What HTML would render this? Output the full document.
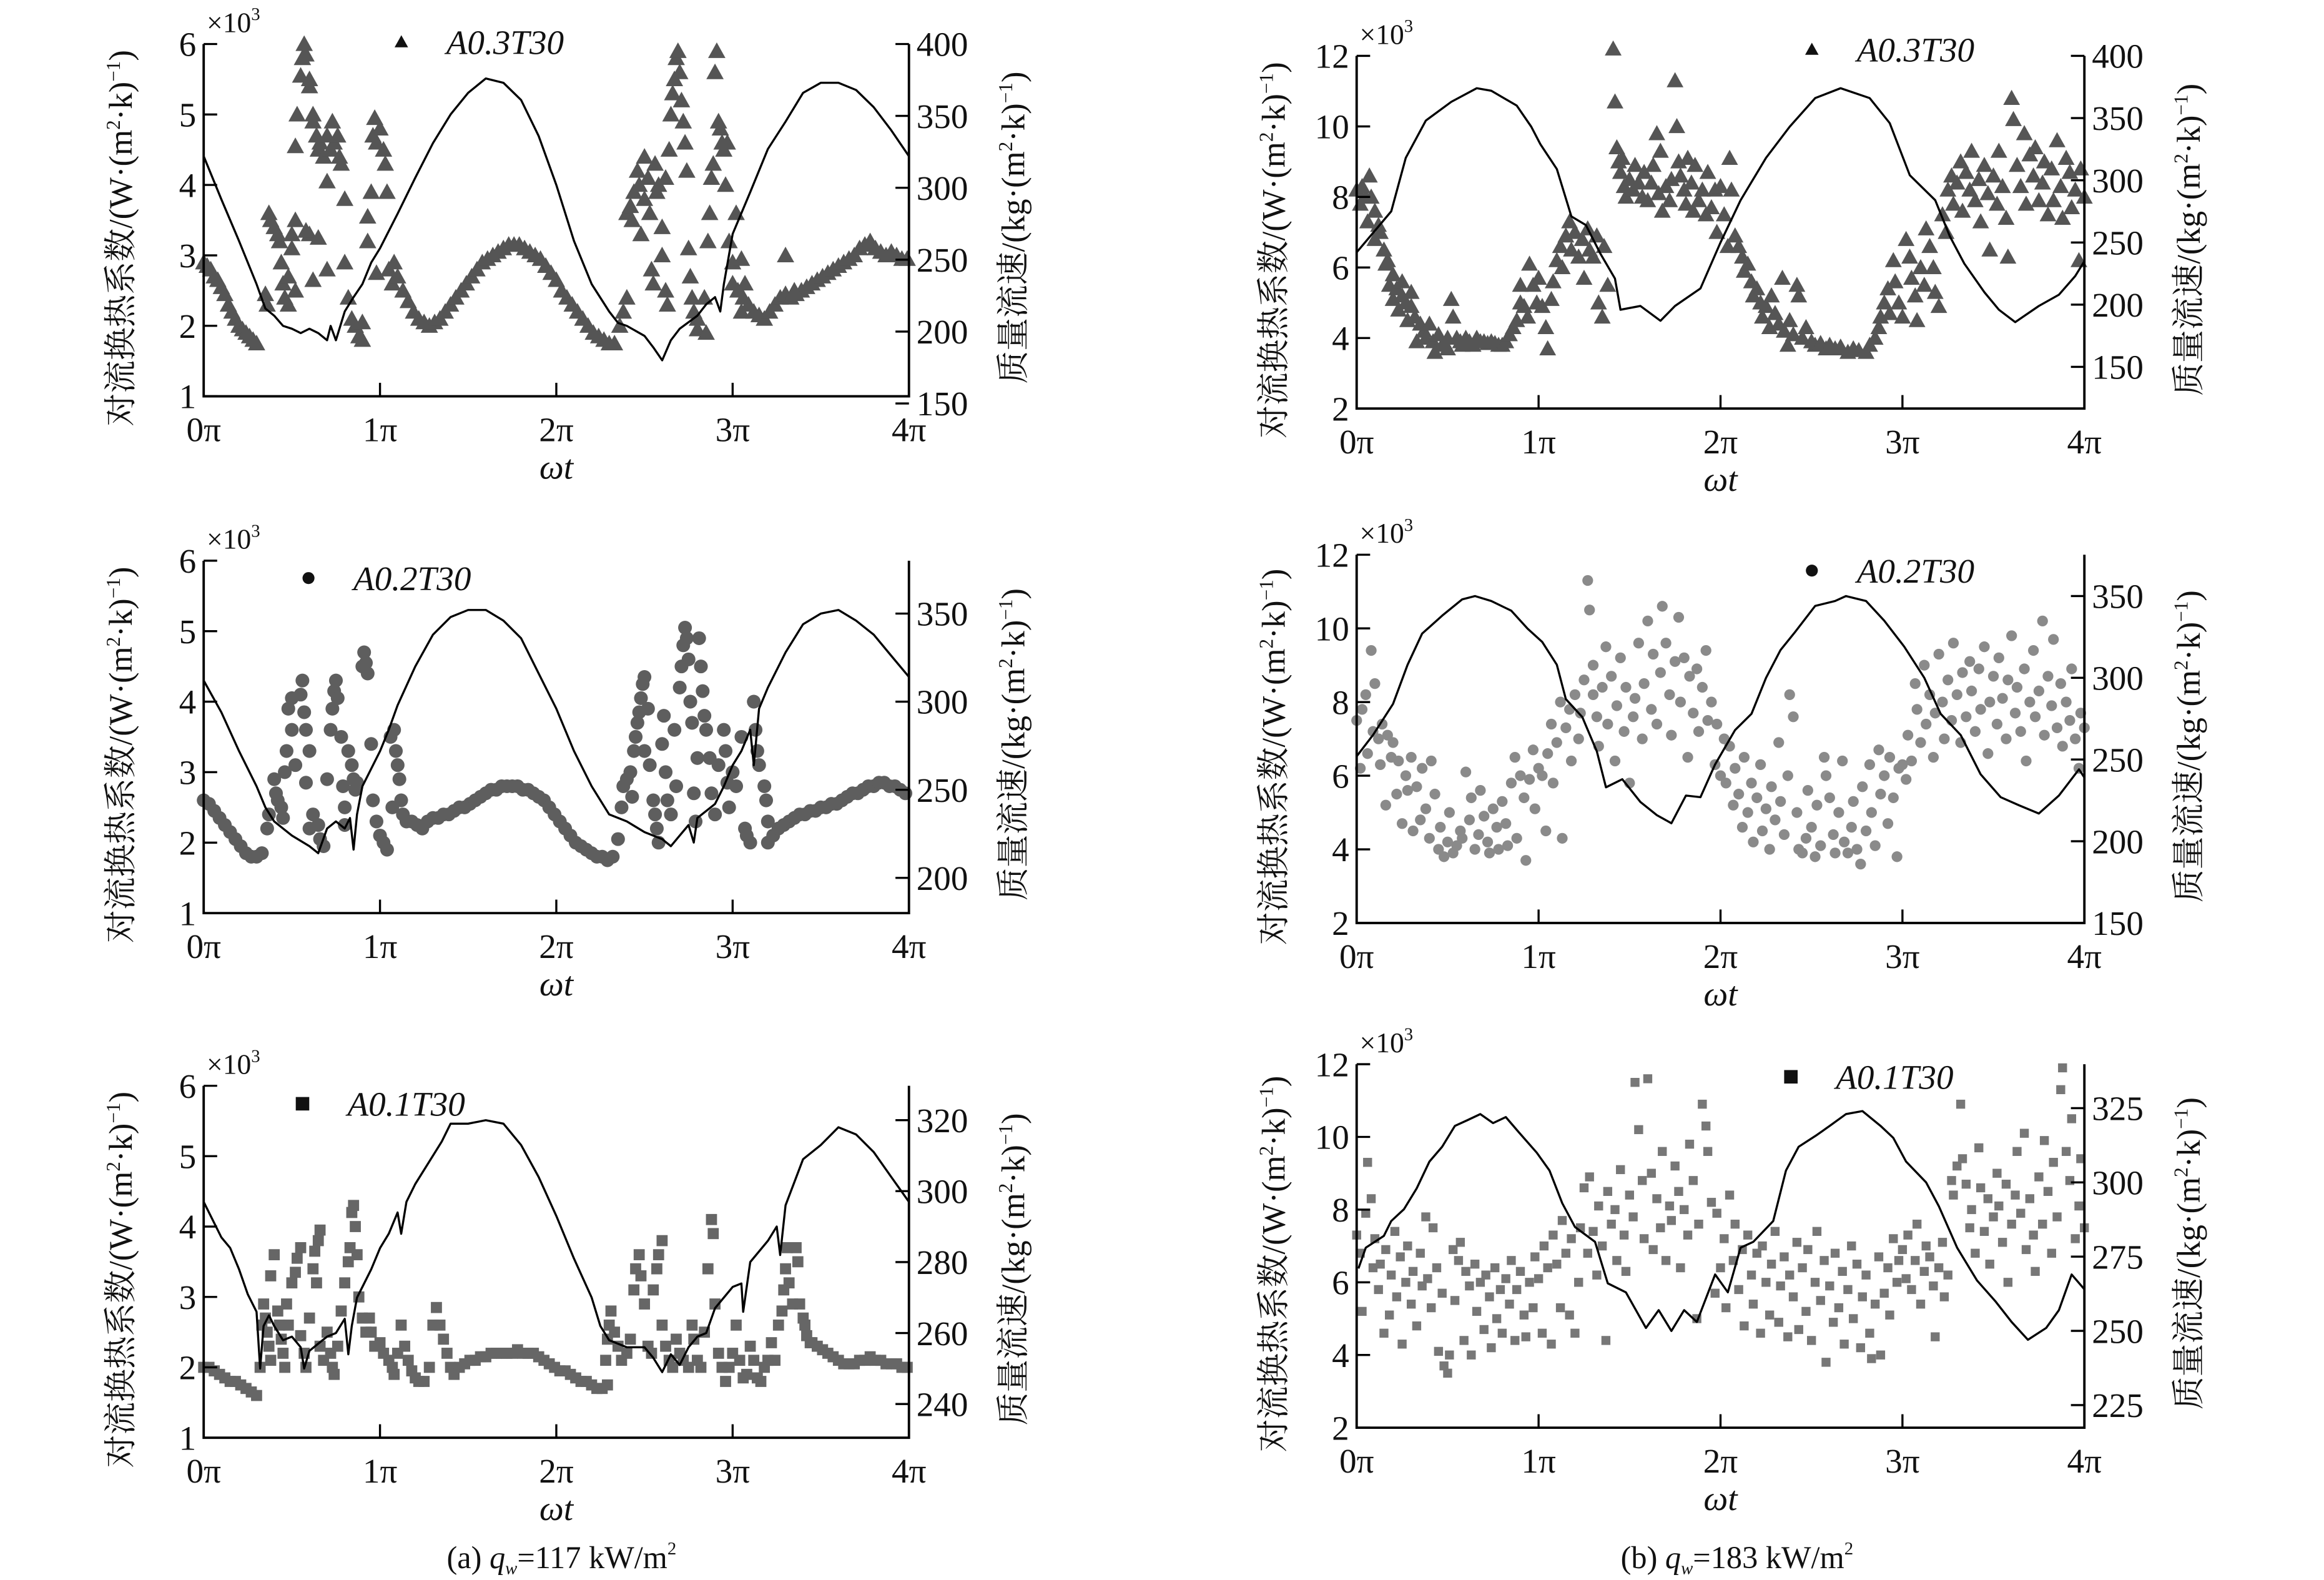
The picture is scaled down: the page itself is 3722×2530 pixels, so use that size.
<!DOCTYPE html>
<html><head><meta charset="utf-8">
<style>
html,body{margin:0;padding:0;background:#fff;}
svg{display:block;}
text{font-family:"Liberation Serif","Noto Serif CJK SC","Noto Sans CJK SC",serif;fill:#111;}
</style></head>
<body>
<svg id="chart" width="3722" height="2530" viewBox="0 0 1552 1055" xmlns="http://www.w3.org/2000/svg">
<text x="375" y="1047" text-anchor="middle" font-size="21">(a) <tspan font-style="italic">q</tspan><tspan font-style="italic" font-size="12" dy="4">w</tspan><tspan dy="-4">=117 kW/m</tspan><tspan font-size="12" dy="-9">2</tspan></text>
<text x="1160" y="1047" text-anchor="middle" font-size="21">(b) <tspan font-style="italic">q</tspan><tspan font-style="italic" font-size="12" dy="4">w</tspan><tspan dy="-4">=183 kW/m</tspan><tspan font-size="12" dy="-9">2</tspan></text>
</svg>
<script>
// ===== DATA =====
const xTickLabels = ["0π","1π","2π","3π","4π"];
const xTickValues = [0,1,2,3,4];
const a1LeftTicks = [1,2,3,4,5,6];
const a1RightTicks = [150,200,250,300,350,400];
const a2LeftTicks = [1,2,3,4,5,6];
const a2RightTicks = [200,250,300,350];
const a3LeftTicks = [1,2,3,4,5,6];
const a3RightTicks = [240,260,280,300,320];
const b1LeftTicks = [2,4,6,8,10,12];
const b1RightTicks = [150,200,250,300,350,400];
const b2LeftTicks = [2,4,6,8,10,12];
const b2RightTicks = [150,200,250,300,350];
const b3LeftTicks = [2,4,6,8,10,12];
const b3RightTicks = [225,250,275,300,325];

// mass flow line [ωt/π, kg/(m2·s)]
const a1Line = [[0,322],[0.1,292],[0.2,263],[0.3,233],[0.35,216],[0.4,211],[0.45,204],[0.5,202],[0.55,199],[0.6,202],[0.65,199],[0.7,194],[0.72,204],[0.75,194],[0.8,214],[0.85,224],[0.9,233],[0.95,248],[1.0,258],[1.1,282],[1.2,307],[1.3,331],[1.4,351],[1.5,366],[1.6,376],[1.7,373],[1.8,361],[1.9,336],[2.0,302],[2.1,263],[2.2,233],[2.3,214],[2.35,206],[2.4,204],[2.5,197],[2.55,189],[2.6,180],[2.65,194],[2.7,202],[2.8,211],[2.85,219],[2.9,224],[2.93,214],[2.95,233],[3.0,268],[3.1,297],[3.2,327],[3.3,346],[3.4,366],[3.5,373],[3.6,373],[3.7,368],[3.8,356],[3.9,340],[4.0,322]];
const a2Line = [[0,312],[0.1,294],[0.2,272],[0.3,252],[0.35,240],[0.4,232],[0.45,228],[0.5,224],[0.6,218],[0.65,214],[0.7,228],[0.75,232],[0.8,228],[0.83,234],[0.85,216],[0.87,236],[0.9,252],[1.0,272],[1.05,284],[1.1,298],[1.2,320],[1.3,338],[1.4,348],[1.5,352],[1.6,352],[1.7,346],[1.8,336],[1.9,316],[2.0,296],[2.1,272],[2.2,252],[2.3,236],[2.4,232],[2.5,226],[2.6,222],[2.65,218],[2.7,224],[2.75,230],[2.78,220],[2.8,234],[2.9,242],[2.95,252],[3.0,264],[3.05,272],[3.1,284],[3.12,264],[3.15,296],[3.2,308],[3.3,328],[3.4,344],[3.5,350],[3.6,352],[3.7,346],[3.8,338],[3.9,326],[4.0,314]];
const a3Line = [[0,297],[0.1,287],[0.15,284],[0.2,278],[0.25,271],[0.3,266],[0.32,250],[0.34,262],[0.37,265],[0.4,262],[0.45,258],[0.5,259],[0.55,256],[0.57,250],[0.6,255],[0.65,257],[0.7,259],[0.75,260],[0.8,264],[0.82,254],[0.84,262],[0.87,270],[0.9,273],[0.95,278],[1.0,284],[1.05,288],[1.1,294],[1.12,288],[1.15,297],[1.2,302],[1.3,310],[1.35,314],[1.4,319],[1.5,319],[1.6,320],[1.7,319],[1.8,313],[1.9,304],[2.0,293],[2.1,281],[2.2,270],[2.25,262],[2.3,258],[2.4,256],[2.5,256],[2.55,253],[2.6,249],[2.65,254],[2.7,251],[2.75,256],[2.8,259],[2.85,260],[2.9,267],[3.0,273],[3.05,274],[3.06,266],[3.1,280],[3.2,286],[3.25,290],[3.27,282],[3.3,296],[3.4,309],[3.5,313],[3.6,318],[3.7,316],[3.8,311],[3.9,304],[4.0,297]];
const b1Line = [[0,242],[0.19,275],[0.27,318],[0.38,348],[0.52,363],[0.66,374],[0.74,372],[0.88,360],[0.96,343],[1.01,329],[1.1,309],[1.18,271],[1.26,264],[1.34,241],[1.42,221],[1.45,196],[1.56,199],[1.67,187],[1.75,199],[1.89,213],[2.0,250],[2.11,284],[2.25,318],[2.38,343],[2.52,366],[2.66,374],[2.82,366],[2.93,346],[3.04,304],[3.18,284],[3.26,255],[3.34,233],[3.45,210],[3.53,196],[3.62,186],[3.75,199],[3.86,208],[3.95,223],[4.0,235]];
const b2Line = [[0,252],[0.09,265],[0.2,284],[0.28,308],[0.36,327],[0.47,338],[0.58,348],[0.65,350],[0.74,347],[0.85,341],[0.94,330],[1.02,322],[1.1,308],[1.15,287],[1.24,276],[1.32,255],[1.37,233],[1.46,238],[1.56,224],[1.65,216],[1.73,211],[1.81,228],[1.89,227],[1.97,247],[2.08,268],[2.17,278],[2.25,300],[2.33,317],[2.41,328],[2.52,344],[2.63,347],[2.69,350],[2.8,347],[2.9,335],[3.01,319],[3.12,300],[3.21,278],[3.32,265],[3.43,241],[3.54,227],[3.64,222],[3.75,217],[3.86,228],[3.97,244],[4.0,239]];
const b3Line = [[0.01,271],[0.05,278],[0.15,282],[0.19,287],[0.26,291],[0.33,298],[0.4,307],[0.47,312],[0.54,319],[0.61,321],[0.68,323],[0.75,320],[0.82,322],[0.89,317],[0.99,310],[1.06,304],[1.13,293],[1.2,285],[1.31,280],[1.38,266],[1.48,263],[1.59,251],[1.66,257],[1.73,250],[1.8,257],[1.87,253],[1.97,269],[2.04,263],[2.11,278],[2.18,280],[2.29,287],[2.36,304],[2.43,312],[2.53,316],[2.6,319],[2.69,323],[2.78,324],[2.88,319],[2.95,315],[3.02,307],[3.13,300],[3.2,292],[3.3,278],[3.41,267],[3.51,260],[3.6,253],[3.69,247],[3.79,251],[3.86,257],[3.93,269],[4.0,264]];

// heat transfer coefficient scatter [ωt/π, ×10^3 W/(m2·K)]
const a1Scatter = [[0,2.9],[0.02,2.85],[0.04,2.8],[0.06,2.7],[0.08,2.65],[0.1,2.55],[0.12,2.45],[0.14,2.3],[0.16,2.2],[0.18,2.1],[0.2,2.0],[0.22,1.95],[0.24,1.9],[0.26,1.85],[0.28,1.8],[0.3,1.75],
[0.35,2.45],[0.36,2.3],[0.37,3.6],[0.38,3.5],[0.4,3.4],[0.42,3.3],[0.43,3.2],[0.44,2.9],[0.45,2.6],[0.46,2.4],[0.48,2.3],[0.5,3.3],[0.5,3.1],[0.52,3.5],[0.52,4.55],[0.53,5.0],[0.55,5.55],[0.56,5.8],[0.57,6.0],[0.58,5.85],[0.6,5.4],[0.6,5.5],[0.62,5.0],[0.62,4.9],[0.64,4.7],[0.65,4.5],[0.66,4.6],[0.68,4.4],[0.7,4.7],[0.7,4.05],[0.72,4.5],[0.73,4.9],[0.74,4.6],[0.76,4.7],[0.77,4.4],[0.78,4.3],[0.8,3.8],[0.8,2.9],[0.6,3.3],[0.58,3.35],[0.62,2.65],[0.7,2.8],[0.82,2.4],[0.84,2.1],[0.86,2.0],[0.88,1.85],[0.9,1.8],[0.9,2.05],[0.65,3.25],[0.52,2.5],[0.48,2.7],
[0.93,3.2],[0.93,3.55],[0.95,3.9],[0.96,4.7],[0.97,4.95],[0.98,4.6],[1.0,4.8],[1.02,4.5],[1.03,4.3],[1.04,3.9],[0.98,2.75],[1.05,2.8],[1.07,2.6],[1.08,2.9],
[1.1,2.7],[1.13,2.5],[1.16,2.35],[1.19,2.2],[1.22,2.1],[1.25,2.05],[1.28,2.0],[1.31,2.05],[1.34,2.1],[1.37,2.2],[1.4,2.3],[1.43,2.4],[1.46,2.5],[1.49,2.6],[1.52,2.7],[1.55,2.8],[1.58,2.9],[1.61,2.95],[1.64,3.0],[1.67,3.05],[1.7,3.1],[1.73,3.15],[1.76,3.15],[1.79,3.15],[1.82,3.1],[1.85,3.05],[1.88,3.0],[1.91,2.95],[1.94,2.85],[1.97,2.75],[2.0,2.65],[2.03,2.5],[2.06,2.4],[2.09,2.3],[2.12,2.2],[2.15,2.1],[2.18,2.0],[2.21,1.9],[2.24,1.85],[2.27,1.8],[2.3,1.75],[2.33,1.75],
[2.36,2.0],[2.38,2.2],[2.4,2.4],[2.4,3.6],[2.42,3.7],[2.43,3.5],[2.44,3.9],[2.46,4.2],[2.47,4.0],[2.48,3.3],[2.5,4.4],[2.5,3.8],[2.52,4.1],[2.53,3.6],[2.54,2.8],[2.55,2.6],[2.56,4.3],[2.57,3.9],[2.58,4.0],[2.6,3.4],[2.6,3.0],[2.62,4.1],[2.62,2.5],[2.63,2.3],[2.64,4.5],[2.65,5.0],[2.66,5.3],[2.67,5.5],[2.68,5.8],[2.69,5.9],[2.7,5.6],[2.71,5.2],[2.72,4.9],[2.73,4.6],[2.74,4.2],[2.75,3.1],[2.76,2.7],[2.77,2.4],[2.78,2.2],[2.8,2.1],[2.8,1.95],[2.84,2.4],[2.86,3.2],[2.87,3.6],[2.88,4.1],[2.89,4.3],[2.9,5.6],[2.91,5.9],[2.92,4.9],[2.93,4.8],[2.94,4.6],[2.95,4.5],[2.96,4.0],[2.97,4.6],[2.98,3.2],[3.0,2.9],[3.02,3.6],[3.05,2.95],[3.05,2.2],[3.07,2.6],[2.85,1.9],
[3.0,2.6],[3.03,2.5],[3.06,2.4],[3.09,2.3],[3.12,2.2],[3.15,2.15],[3.18,2.1],[3.21,2.2],[3.24,2.3],[3.27,2.4],[3.3,2.45],[3.33,2.4],[3.36,2.45],[3.39,2.5],[3.42,2.55],[3.45,2.6],[3.48,2.65],[3.51,2.7],[3.54,2.75],[3.57,2.8],[3.6,2.85],[3.63,2.9],[3.66,2.95],[3.69,3.0],[3.72,3.1],[3.75,3.15],[3.78,3.2],[3.81,3.1],[3.84,3.05],[3.87,3.0],[3.9,3.05],[3.93,3.0],[3.96,2.95],[3.99,2.95],[3.3,3.0],[3.35,2.5]];
const a2Scatter = [[0,2.6],[0.03,2.55],[0.06,2.45],[0.09,2.35],[0.12,2.25],[0.15,2.15],[0.18,2.05],[0.21,1.95],[0.24,1.85],[0.27,1.8],[0.3,1.8],[0.33,1.85],[0.36,2.2],[0.37,2.4],
[0.4,2.9],[0.41,2.7],[0.42,2.6],[0.44,2.5],[0.45,2.35],[0.46,3.0],[0.47,3.3],[0.48,3.9],[0.5,4.05],[0.5,3.6],[0.52,3.1],[0.55,4.1],[0.56,4.3],[0.57,3.85],[0.58,3.6],[0.6,3.3],[0.58,2.85],[0.6,2.2],[0.62,2.4],[0.65,2.25],[0.66,2.05],[0.68,1.95],[0.7,2.9],[0.72,3.6],[0.73,3.9],[0.74,4.15],[0.75,4.3],[0.76,4.05],[0.78,3.5],[0.79,2.8],[0.8,2.5],[0.8,2.25],[0.82,3.3],[0.84,3.1],[0.85,2.9],[0.86,2.75],[0.87,2.85],[0.9,4.5],[0.91,4.7],[0.92,4.55],[0.93,4.4],[0.95,3.4],[0.96,2.6],[0.98,2.3],[1.0,2.1],[1.02,2.0],[1.04,1.9],[1.06,3.5],[1.07,2.5],[1.08,3.6],[1.09,3.3],[1.1,3.1],[1.11,2.9],[1.12,2.6],[1.13,2.4],
[1.15,2.3],[1.18,2.3],[1.21,2.25],[1.24,2.2],[1.27,2.3],[1.3,2.35],[1.33,2.35],[1.36,2.4],[1.39,2.4],[1.42,2.45],[1.45,2.5],[1.48,2.5],[1.51,2.55],[1.54,2.6],[1.57,2.65],[1.6,2.7],[1.63,2.75],[1.66,2.75],[1.69,2.8],[1.72,2.8],[1.75,2.8],[1.78,2.8],[1.81,2.75],[1.84,2.75],[1.87,2.7],[1.9,2.65],[1.93,2.6],[1.96,2.5],[1.99,2.4],[2.02,2.3],[2.05,2.2],[2.08,2.1],[2.11,2.0],[2.14,1.95],[2.17,1.9],[2.2,1.85],[2.23,1.8],[2.26,1.8],[2.29,1.75],[2.32,1.8],[2.35,2.05],
[2.37,2.5],[2.38,2.8],[2.4,2.9],[2.42,3.0],[2.43,2.65],[2.44,3.3],[2.45,3.5],[2.46,3.7],[2.47,3.85],[2.48,4.05],[2.49,4.25],[2.5,4.35],[2.5,3.3],[2.52,3.9],[2.53,3.1],[2.55,2.6],[2.56,2.4],[2.57,2.2],[2.58,2.0],[2.6,3.4],[2.61,3.8],[2.62,3.0],[2.63,2.6],[2.65,2.4],[2.67,3.6],[2.68,2.8],[2.7,4.2],[2.71,4.5],[2.72,4.8],[2.73,5.05],[2.74,4.9],[2.75,4.6],[2.76,4.0],[2.77,3.7],[2.78,2.7],[2.79,2.3],[2.8,3.2],[2.81,4.9],[2.82,4.5],[2.83,4.15],[2.84,3.8],[2.85,3.6],[2.87,3.2],[2.88,2.7],[2.9,2.4],[2.92,3.1],[2.95,3.6],[2.96,3.3],[2.97,2.85],[2.98,2.5],[3.0,3.0],[3.02,2.8],[3.05,3.5],[3.07,2.2],[3.08,2.1],[3.1,2.0],[3.12,4.0],[3.13,3.6],[3.14,3.3],[3.15,3.1],[3.18,2.8],[3.19,2.6],[3.2,2.3],
[3.2,2.0],[3.23,2.1],[3.26,2.2],[3.29,2.25],[3.32,2.3],[3.35,2.35],[3.38,2.4],[3.41,2.4],[3.44,2.45],[3.47,2.45],[3.5,2.5],[3.53,2.5],[3.56,2.55],[3.59,2.55],[3.62,2.6],[3.65,2.65],[3.68,2.7],[3.71,2.7],[3.74,2.75],[3.77,2.8],[3.8,2.8],[3.83,2.85],[3.86,2.85],[3.89,2.8],[3.92,2.8],[3.95,2.75],[3.98,2.7]];
const a3Scatter = [[0,2.0],[0.03,2.0],[0.06,1.95],[0.09,1.9],[0.12,1.85],[0.15,1.8],[0.18,1.8],[0.21,1.75],[0.24,1.7],[0.27,1.65],[0.3,1.6],
[0.32,2.0],[0.33,2.6],[0.34,2.9],[0.35,2.7],[0.36,2.5],[0.37,2.3],[0.38,2.1],[0.38,3.3],[0.4,3.6],[0.42,2.8],[0.43,2.6],[0.44,2.4],[0.45,2.2],[0.46,2.0],[0.47,2.9],[0.48,2.6],[0.5,3.2],[0.52,3.35],[0.53,3.55],[0.55,3.7],[0.55,2.45],[0.57,2.2],[0.58,2.0],[0.6,2.7],[0.62,3.4],[0.63,3.65],[0.65,3.8],[0.66,3.95],[0.64,3.2],[0.66,2.3],[0.68,2.1],[0.7,2.5],[0.72,2.2],[0.73,2.0],[0.74,1.9],[0.76,2.3],[0.78,2.8],[0.8,3.2],[0.82,3.5],[0.83,3.7],[0.84,4.2],[0.85,4.3],[0.86,4.0],[0.87,3.6],[0.88,3.0],[0.9,2.7],[0.92,2.5],[0.94,2.7],[0.95,2.5],[0.97,2.3],[1.0,2.35],[1.02,2.2],[1.05,2.1],[1.07,2.0],[1.08,1.9],[1.1,2.2],[1.12,2.6],[1.14,2.3],[1.16,2.1],[1.18,1.95],[1.2,1.85],[1.22,1.8],[1.25,1.8],[1.28,2.0],[1.3,2.6],[1.32,2.85],[1.34,2.6],[1.36,2.4],[1.38,2.2],[1.4,2.0],[1.42,1.9],
[1.45,2.0],[1.48,2.05],[1.51,2.1],[1.54,2.1],[1.57,2.15],[1.6,2.15],[1.63,2.2],[1.66,2.2],[1.69,2.2],[1.72,2.2],[1.75,2.2],[1.78,2.25],[1.81,2.2],[1.84,2.2],[1.87,2.2],[1.9,2.15],[1.93,2.1],[1.96,2.05],[1.99,2.0],[2.02,1.95],[2.05,1.95],[2.08,1.9],[2.11,1.85],[2.14,1.8],[2.17,1.8],[2.2,1.75],[2.23,1.7],[2.26,1.7],[2.29,1.75],
[2.28,2.1],[2.29,2.4],[2.3,2.6],[2.31,2.8],[2.33,2.5],[2.35,2.3],[2.37,2.1],[2.4,2.2],[2.42,2.4],[2.44,3.1],[2.45,3.4],[2.47,3.6],[2.48,3.3],[2.5,2.9],[2.52,2.3],[2.54,2.2],[2.55,3.1],[2.57,3.4],[2.58,3.6],[2.6,3.8],[2.6,2.6],[2.62,2.3],[2.64,2.1],[2.66,2.0],[2.68,2.4],[2.7,2.2],[2.72,2.1],[2.75,2.0],[2.77,2.6],[2.78,2.4],[2.8,2.1],[2.82,2.0],[2.84,2.5],[2.86,3.4],[2.88,4.1],[2.89,3.9],[2.9,2.9],[2.92,2.2],[2.94,2.0],[2.96,1.8],[2.98,2.0],[3.0,2.2],[3.02,2.6],[3.04,2.1],[3.06,1.85],[3.08,1.9],[3.1,2.3],[3.12,2.1],[3.14,1.85],[3.16,1.8],[3.18,2.0],[3.2,2.1],[3.22,2.35],[3.24,2.1],[3.26,2.6],[3.28,2.8],[3.29,3.1],[3.3,3.4],[3.31,3.7],[3.32,3.2],[3.34,2.9],[3.36,3.7],[3.37,3.5],[3.38,2.9],[3.4,2.7],[3.41,2.6],[3.42,2.45],[3.44,2.35],
[3.45,2.35],[3.48,2.3],[3.51,2.25],[3.54,2.2],[3.57,2.15],[3.6,2.1],[3.63,2.05],[3.66,2.05],[3.69,2.05],[3.72,2.1],[3.75,2.1],[3.78,2.15],[3.81,2.1],[3.84,2.1],[3.87,2.05],[3.9,2.05],[3.93,2.05],[3.96,2.0],[3.99,2.0]];
const b1Scatter = [[0,8.2],[0.02,7.8],[0.03,8.3],[0.05,8.0],[0.06,7.3],[0.07,8.6],[0.08,8.0],[0.1,7.6],[0.1,6.8],[0.12,7.2],[0.13,7.0],[0.15,6.5],[0.16,6.1],[0.17,6.2],[0.18,5.5],[0.2,5.8],[0.2,5.1],[0.22,5.4],[0.23,4.8],[0.25,5.6],[0.25,5.2],[0.27,5.0],[0.28,4.5],[0.3,5.3],[0.3,4.9],[0.32,4.6],[0.33,3.9],[0.35,4.4],[0.37,4.2],[0.38,4.0],[0.4,4.4],[0.42,3.9],[0.43,3.6],[0.45,4.1],[0.47,3.8],[0.5,4.0],[0.5,3.7],[0.52,5.1],[0.53,4.6],[0.55,4.0],[0.57,3.9],[0.58,3.8],[0.6,4.0],[0.62,3.9],[0.64,3.8],[0.66,4.0],[0.68,3.9],[0.7,3.9],[0.72,3.85],[0.74,3.9],[0.76,3.85],[0.78,3.8],[0.8,3.8],[0.82,3.9],[0.84,4.1],[0.86,4.3],[0.88,4.5],[0.9,5.0],[0.9,5.5],[0.92,4.9],[0.94,4.6],[0.95,6.1],[0.97,5.5],[0.99,5.0],[1.0,5.7],[1.02,4.9],[1.04,4.3],[1.05,3.7],[1.07,5.1],[1.08,5.6],[1.1,6.2],[1.12,6.6],[1.13,6.0],[1.15,6.9],[1.17,7.3],[1.18,6.5],[1.2,7.0],[1.22,6.3],[1.24,6.8],[1.25,5.7],[1.27,7.1],[1.28,6.5],[1.3,6.3],[1.32,6.9],[1.33,5.0],[1.35,4.6],[1.36,6.6],[1.38,5.5],
[1.41,12.2],[1.42,10.7],[1.43,9.4],[1.44,9.0],[1.45,8.7],[1.46,9.1],[1.47,8.3],[1.48,8.0],[1.5,8.5],[1.52,8.2],[1.53,8.9],[1.55,8.4],[1.57,8.0],[1.58,8.7],[1.6,7.9],[1.62,8.4],[1.63,8.9],[1.65,9.8],[1.66,8.1],[1.67,9.3],[1.68,7.6],[1.7,8.3],[1.72,7.9],[1.73,8.5],[1.75,11.3],[1.76,10.0],[1.77,9.0],[1.78,8.6],[1.8,8.2],[1.81,7.8],[1.82,9.1],[1.84,8.4],[1.85,7.6],[1.86,8.9],[1.88,7.9],[1.9,8.2],[1.92,7.5],[1.93,8.7],[1.95,7.7],[1.97,8.2],[1.98,7.0],[2.0,8.3],[2.02,7.5],[2.04,6.6],[2.05,9.1],[2.06,8.2],
[2.08,6.9],[2.1,6.6],[2.12,6.3],[2.13,5.9],[2.15,6.1],[2.17,5.6],[2.18,5.2],[2.2,5.4],[2.22,5.0],[2.23,4.6],[2.25,4.9],[2.27,4.3],[2.28,5.2],[2.3,4.7],[2.32,4.4],[2.34,5.7],[2.35,4.2],[2.37,3.8],[2.38,4.5],[2.4,4.1],[2.42,5.5],[2.43,5.2],[2.45,4.0],[2.47,4.3],
[2.5,3.9],[2.52,3.8],[2.55,3.85],[2.58,3.7],[2.6,3.8],[2.63,3.7],[2.66,3.75],[2.7,3.6],[2.73,3.7],[2.76,3.65],[2.8,3.6],[2.82,3.8],[2.85,4.0],[2.87,4.3],[2.88,4.6],[2.9,5.0],[2.92,5.4],[2.93,4.7],[2.95,6.2],[2.96,5.6],[2.98,5.0],[3.0,4.6],[3.02,6.8],[3.04,6.3],[3.05,5.7],[3.07,5.2],[3.08,4.5],[3.1,6.0],[3.12,5.5],[3.13,7.1],[3.15,6.6],[3.17,6.0],[3.18,5.3],[3.2,4.9],
[3.22,7.5],[3.24,7.0],[3.25,8.2],[3.27,8.6],[3.28,7.8],[3.3,8.4],[3.32,9.0],[3.33,7.6],[3.35,8.7],[3.37,8.2],[3.38,9.3],[3.4,7.9],[3.42,8.5],[3.43,7.3],[3.45,8.9],[3.47,8.1],[3.48,6.5],[3.5,8.6],[3.52,7.8],[3.53,9.3],[3.55,8.3],[3.57,7.4],[3.58,6.3],[3.6,10.8],[3.61,10.2],[3.63,8.9],[3.65,8.3],[3.67,9.8],[3.68,7.8],[3.7,9.2],[3.72,8.6],[3.73,9.4],[3.75,7.9],[3.77,8.4],[3.78,9.0],[3.8,7.5],[3.82,8.8],[3.83,7.9],[3.85,9.6],[3.87,8.3],[3.88,7.4],[3.9,9.1],[3.92,8.7],[3.93,7.7],[3.95,8.2],[3.97,6.2],[3.98,8.8],[4.0,8.0]];
const b2Scatter = [[0.0,7.5],[0.02,6.2],[0.03,7.8],[0.05,8.2],[0.06,6.6],[0.08,9.4],[0.09,7.2],[0.1,8.5],[0.12,7.0],[0.13,6.3],[0.14,7.4],[0.16,5.2],[0.17,7.1],[0.19,6.5],[0.2,6.9],[0.22,5.5],[0.23,6.4],[0.25,4.7],[0.27,6.0],[0.28,5.6],[0.3,6.5],[0.31,4.5],[0.33,5.7],[0.35,4.8],[0.36,6.2],[0.38,5.1],[0.4,4.3],[0.41,6.4],[0.43,5.5],[0.45,4.0],[0.46,4.6],[0.48,3.8],[0.5,4.2],[0.51,5.0],[0.53,3.9],[0.55,4.1],[0.57,4.5],[0.58,4.3],[0.6,6.1],[0.62,4.8],[0.63,5.4],[0.65,4.0],[0.67,4.4],[0.68,5.6],[0.7,4.9],[0.72,4.2],[0.73,3.9],[0.75,5.1],[0.77,4.6],[0.78,4.0],[0.8,5.3],[0.82,4.7],[0.83,4.1],[0.85,5.8],[0.87,6.5],[0.88,4.3],[0.9,6.0],[0.92,5.4],[0.93,3.7],[0.95,5.9],[0.97,6.7],[0.98,5.1],
[1.0,6.2],[1.02,6.0],[1.04,4.5],[1.05,6.6],[1.07,7.4],[1.08,5.8],[1.1,6.9],[1.12,8.0],[1.13,4.3],[1.15,7.3],[1.17,7.8],[1.18,6.4],[1.2,8.2],[1.22,7.0],[1.23,7.7],[1.25,8.6],[1.27,11.3],[1.28,10.5],[1.3,9.0],[1.3,8.2],[1.32,7.6],[1.33,6.8],[1.35,8.4],[1.37,9.5],[1.38,7.4],[1.4,8.7],[1.42,6.4],[1.43,7.9],[1.45,9.2],[1.47,7.2],[1.48,8.4],[1.5,5.8],[1.52,7.6],[1.53,8.1],[1.55,9.6],[1.57,7.0],[1.58,8.5],[1.6,10.2],[1.62,7.8],[1.63,9.3],[1.65,7.4],[1.67,8.8],[1.68,10.6],[1.7,9.6],[1.72,8.2],[1.73,7.1],[1.75,9.1],[1.77,10.3],[1.78,8.0],[1.8,9.2],[1.82,6.5],[1.83,8.7],[1.85,7.7],[1.87,8.9],[1.88,7.2],[1.9,8.4],[1.92,9.4],[1.93,7.5],[1.95,8.0],[1.97,6.3],[1.98,7.4],
[2.0,6.0],[2.02,7.0],[2.03,5.8],[2.05,6.8],[2.07,5.2],[2.08,6.2],[2.1,5.5],[2.12,4.6],[2.13,6.5],[2.15,5.0],[2.17,5.8],[2.18,4.2],[2.2,5.4],[2.22,6.3],[2.23,4.5],[2.25,5.1],[2.27,4.0],[2.28,5.7],[2.3,4.8],[2.32,6.9],[2.33,5.3],[2.35,4.4],[2.37,6.0],[2.38,8.2],[2.4,7.6],[2.42,5.0],[2.43,4.0],[2.45,3.9],[2.47,4.3],[2.48,5.6],[2.5,4.6],[2.52,3.8],[2.53,5.2],[2.55,4.1],[2.57,6.5],[2.58,6.0],[2.6,5.4],[2.62,4.4],[2.63,3.9],[2.65,5.0],[2.67,6.4],[2.68,4.2],[2.7,3.9],[2.72,4.6],[2.73,5.3],[2.75,4.0],[2.77,3.6],[2.78,5.7],[2.8,4.5],[2.82,6.3],[2.83,5.0],[2.85,4.1],[2.87,6.7],[2.88,5.5],[2.9,6.0],[2.92,4.7],[2.93,6.5],[2.95,5.4],[2.97,3.8],[2.98,6.2],
[3.0,6.3],[3.02,5.9],[3.03,7.1],[3.05,6.4],[3.07,8.5],[3.08,7.8],[3.1,6.9],[3.12,9.0],[3.13,7.4],[3.15,8.2],[3.17,6.5],[3.18,7.7],[3.2,9.3],[3.22,8.0],[3.23,7.0],[3.25,8.6],[3.27,7.5],[3.28,9.6],[3.3,8.2],[3.32,6.9],[3.33,8.8],[3.35,7.6],[3.37,9.1],[3.38,8.3],[3.4,7.2],[3.42,8.9],[3.43,7.8],[3.45,9.5],[3.47,6.6],[3.48,8.0],[3.5,8.7],[3.52,7.4],[3.53,9.2],[3.55,8.1],[3.57,7.0],[3.58,8.6],[3.6,9.8],[3.62,7.7],[3.63,8.4],[3.65,7.2],[3.67,8.9],[3.68,6.4],[3.7,8.0],[3.72,9.4],[3.73,7.6],[3.75,8.3],[3.77,10.2],[3.78,7.1],[3.8,8.7],[3.82,7.9],[3.83,9.7],[3.85,7.3],[3.87,8.5],[3.88,6.8],[3.9,8.0],[3.92,7.5],[3.93,8.9],[3.95,7.0],[3.97,6.2],[3.98,7.7],[4.0,7.3]];
const b3Scatter = [[0.0,7.3],[0.02,6.8],[0.03,5.2],[0.05,7.9],[0.06,9.3],[0.08,8.3],[0.09,6.4],[0.1,7.2],[0.12,5.8],[0.13,6.5],[0.15,4.6],[0.16,6.9],[0.18,5.1],[0.19,6.2],[0.21,7.4],[0.22,5.6],[0.24,6.7],[0.25,4.3],[0.27,6.0],[0.28,7.0],[0.3,5.4],[0.31,6.3],[0.33,4.8],[0.35,6.8],[0.36,5.9],[0.38,7.8],[0.39,6.1],[0.41,5.3],[0.42,7.5],[0.44,6.4],[0.45,4.1],[0.47,5.7],[0.48,3.7],[0.5,3.5],[0.51,4.0],[0.53,6.9],[0.54,5.5],[0.56,6.6],[0.57,7.1],[0.59,4.4],[0.6,6.3],[0.62,5.9],[0.63,4.0],[0.65,6.5],[0.66,5.2],[0.68,6.0],[0.7,4.7],[0.71,6.2],[0.73,5.6],[0.74,4.2],[0.76,6.4],[0.77,5.0],[0.79,5.8],[0.8,4.6],[0.82,6.1],[0.84,5.4],[0.85,6.6],[0.87,4.4],[0.88,5.8],[0.9,6.3],[0.92,5.1],[0.93,4.5],[0.95,6.0],[0.97,5.3],[0.98,6.7],
[1.0,6.1],[1.02,4.6],[1.03,7.0],[1.05,6.4],[1.07,4.3],[1.08,7.3],[1.1,6.5],[1.12,5.3],[1.13,7.7],[1.15,6.8],[1.17,5.1],[1.18,7.2],[1.2,4.6],[1.22,6.0],[1.23,7.5],[1.25,8.6],[1.27,6.8],[1.28,8.9],[1.3,7.4],[1.32,6.2],[1.33,8.1],[1.35,7.0],[1.37,4.4],[1.38,8.5],[1.4,7.6],[1.42,8.0],[1.43,6.6],[1.45,9.1],[1.47,7.3],[1.48,6.3],[1.5,8.4],[1.52,7.8],[1.53,11.5],[1.55,10.2],[1.57,8.8],[1.58,7.2],[1.6,11.6],[1.62,9.0],[1.63,6.9],[1.65,8.3],[1.67,7.5],[1.68,9.6],[1.7,6.6],[1.72,8.1],[1.73,7.7],[1.75,9.2],[1.77,8.5],[1.78,6.4],[1.8,8.0],[1.82,7.3],[1.83,9.8],[1.85,8.8],[1.87,5.0],[1.88,7.6],[1.9,10.9],[1.92,10.3],[1.93,9.6],[1.95,8.2],[1.97,5.7],[1.98,7.9],
[2.0,6.4],[2.02,7.2],[2.03,5.3],[2.05,8.4],[2.07,6.6],[2.08,7.6],[2.1,5.8],[2.12,6.9],[2.13,4.8],[2.15,7.3],[2.17,6.2],[2.18,5.4],[2.2,6.8],[2.22,4.6],[2.23,7.0],[2.25,6.0],[2.27,5.1],[2.28,6.5],[2.3,7.4],[2.32,4.9],[2.33,5.9],[2.35,6.7],[2.37,4.5],[2.38,6.2],[2.4,5.6],[2.42,7.1],[2.43,4.7],[2.45,6.4],[2.47,5.2],[2.48,6.9],[2.5,4.4],[2.52,6.0],[2.53,7.4],[2.55,5.5],[2.57,6.6],[2.58,3.8],[2.6,5.9],[2.62,4.9],[2.63,6.8],[2.65,5.3],[2.67,6.3],[2.68,4.3],[2.7,5.8],[2.72,7.0],[2.73,5.0],[2.75,6.5],[2.77,4.2],[2.78,5.6],[2.8,6.2],[2.82,4.6],[2.83,3.9],[2.85,5.4],[2.87,6.7],[2.88,4.0],[2.9,5.7],[2.92,6.4],[2.93,5.1],[2.95,7.2],[2.97,6.0],[2.98,6.6],
[3.0,6.9],[3.02,6.1],[3.03,7.3],[3.05,5.8],[3.07,6.6],[3.08,7.6],[3.1,5.4],[3.12,6.3],[3.13,7.0],[3.15,6.7],[3.17,5.9],[3.18,4.5],[3.2,6.4],[3.22,7.1],[3.23,5.6],[3.25,6.2],[3.27,8.8],[3.28,8.4],[3.3,9.2],[3.32,10.9],[3.33,9.4],[3.35,8.7],[3.37,7.5],[3.38,8.0],[3.4,6.8],[3.42,9.7],[3.43,8.6],[3.45,7.4],[3.47,8.3],[3.48,6.5],[3.5,7.8],[3.52,9.0],[3.53,8.1],[3.55,7.1],[3.57,8.7],[3.58,6.0],[3.6,7.6],[3.62,8.4],[3.63,9.6],[3.65,7.9],[3.67,10.1],[3.68,6.9],[3.7,8.3],[3.72,7.3],[3.73,6.3],[3.75,8.9],[3.77,7.6],[3.78,9.9],[3.8,8.5],[3.82,6.8],[3.83,9.3],[3.85,7.8],[3.87,11.3],[3.88,11.9],[3.9,9.6],[3.92,8.8],[3.93,10.5],[3.95,7.2],[3.97,8.1],[3.98,9.4],[4.0,7.5]];

// ===== LAYOUT (geometry only) =====
const panels = [
 {id:"a1",x0:136,x1:607,y0:29.4,y1:264.6,lmin:1,lmax:6,rmin:155,rmax:400,lt:a1LeftTicks,rt:a1RightTicks,line:a1Line,sc:a1Scatter,m:"tri",col:"#555",sz:5.8,leg:"A0.3T30",lx:268,ly:28},
 {id:"a2",x0:136,x1:607,y0:374.4,y1:609.7,lmin:1,lmax:6,rmin:180,rmax:380,lt:a2LeftTicks,rt:a2RightTicks,line:a2Line,sc:a2Scatter,m:"dot",col:"#5e5e5e",sz:4.6,leg:"A0.2T30",lx:206,ly:386},
 {id:"a3",x0:136,x1:607,y0:725,y1:960,lmin:1,lmax:6,rmin:230.5,rmax:329.7,lt:a3LeftTicks,rt:a3RightTicks,line:a3Line,sc:a3Scatter,m:"sq",col:"#666",sz:3.7,leg:"A0.1T30",lx:202,ly:737},
 {id:"b1",x0:906,x1:1392,y0:37.3,y1:272.8,lmin:2,lmax:12,rmin:116.5,rmax:400,lt:b1LeftTicks,rt:b1RightTicks,line:b1Line,sc:b1Scatter,m:"tri",col:"#555",sz:5.6,leg:"A0.3T30",lx:1210,ly:33},
 {id:"b2",x0:906,x1:1392,y0:370.4,y1:616.3,lmin:2,lmax:12,rmin:150,rmax:375.3,lt:b2LeftTicks,rt:b2RightTicks,line:b2Line,sc:b2Scatter,m:"dot",col:"#8a8a8a",sz:3.6,leg:"A0.2T30",lx:1210,ly:381},
 {id:"b3",x0:906,x1:1392,y0:710.6,y1:953.3,lmin:2,lmax:12,rmin:217.4,rmax:339.8,lt:b3LeftTicks,rt:b3RightTicks,line:b3Line,sc:b3Scatter,m:"sq",col:"#777",sz:3.0,leg:"A0.1T30",lx:1196,ly:719}
];
const NS="http://www.w3.org/2000/svg";
const svg=document.getElementById("chart");
function mk(tag,attrs,parent){const e=document.createElementNS(NS,tag);for(const k in attrs)e.setAttribute(k,attrs[k]);(parent||svg).appendChild(e);return e;}

function marker(g,type,cx,cy,s,col){
  let e;
  if(type==="tri"){e=mk("polygon",{points:`${cx},${cy-s} ${cx-s},${cy+s*0.8} ${cx+s},${cy+s*0.8}`,fill:col},g);}
  else if(type==="dot"){e=mk("circle",{cx:cx,cy:cy,r:s,fill:col},g);}
  else {e=mk("rect",{x:cx-s,y:cy-s,width:2*s,height:2*s,fill:col},g);}
  return e;
}

panels.forEach(p=>{
  const g=mk("g",{});
  
  
  const xs=v=>p.x0+(v-0)/4*(p.x1-p.x0);
  const yl=v=>p.y1-(v-p.lmin)/(p.lmax-p.lmin)*(p.y1-p.y0);
  const yr=v=>p.y1-(v-p.rmin)/(p.rmax-p.rmin)*(p.y1-p.y0);

  const sg=mk("g",{},g);
  
  
  p.sc.forEach(d=>{
    const m=marker(sg,p.m,xs(d[0]),yl(d[1]),p.sz,p.col);
    
    
  });
  const pl=mk("polyline",{points:p.line.map(d=>xs(d[0]).toFixed(1)+","+yr(d[1]).toFixed(1)).join(" "),fill:"none",stroke:"#000","stroke-width":1.4,"stroke-linejoin":"round"},g);
  
  

  const ax=mk("path",{d:`M${p.x0},${p.y0} V${p.y1} H${p.x1} V${p.y0}`,fill:"none",stroke:"#000","stroke-width":1.6},g);
  
  
  xTickValues.forEach((v,i)=>{
    const x=xs(v);
    if(i>0&&i<4) mk("line",{x1:x,y1:p.y1,x2:x,y2:p.y1-9,stroke:"#000","stroke-width":1.4},g);
    const t=mk("text",{x:x,y:p.y1+30,"text-anchor":"middle","font-size":23},g);
    t.textContent=xTickLabels[i];
    
    
  });
  p.lt.forEach(v=>{
    const y=yl(v);
    mk("line",{x1:p.x0,y1:y,x2:p.x0+9,y2:y,stroke:"#000","stroke-width":1.4},g);
    const t=mk("text",{x:p.x0-5,y:y+8,"text-anchor":"end","font-size":23},g);
    t.textContent=v;
    
    
  });
  p.rt.forEach(v=>{
    const y=yr(v);
    mk("line",{x1:p.x1,y1:y,x2:p.x1-9,y2:y,stroke:"#000","stroke-width":1.4},g);
    const t=mk("text",{x:p.x1+5,y:y+8,"text-anchor":"start","font-size":23},g);
    t.textContent=v;
    
    
  });
  const ex=mk("text",{x:p.x0+2,y:p.y0-8,"font-size":19},g);
  ex.innerHTML='×10<tspan font-size="12" dy="-8">3</tspan>';
  
  
  const xt=mk("text",{x:(p.x0+p.x1)/2,y:p.y1+55,"text-anchor":"middle","font-size":23,"font-style":"italic"},g);
  xt.textContent="ωt";
  
  
  const cy=(p.y0+p.y1)/2+12;
  const lx=p.x0-48;
  const lt=mk("text",{x:0,y:0,"text-anchor":"middle","font-size":22,transform:`translate(${lx},${cy}) rotate(-90)`},g);
  lt.innerHTML='对流换热系数/(W·(m<tspan font-size="13" dy="-8">2</tspan><tspan dy="8">·k)</tspan><tspan font-size="13" dy="-8">−1</tspan><tspan dy="8">)</tspan>';
  
  
  const rx=p.x1+77;
  const rt=mk("text",{x:0,y:0,"text-anchor":"middle","font-size":22,transform:`translate(${rx},${(p.y0+p.y1)/2+5}) rotate(-90)`},g);
  rt.innerHTML='质量流速/(kg·(m<tspan font-size="13" dy="-8">2</tspan><tspan dy="8">·k)</tspan><tspan font-size="13" dy="-8">−1</tspan><tspan dy="8">)</tspan>';
  
  
  const lg=mk("g",{},g);
  
  
  marker(lg,p.m,p.lx,p.ly,p.m==="dot"?4:4.5,"#111");
  const lt2=mk("text",{x:p.lx+30,y:p.ly+8,"font-size":23,"font-style":"italic"},lg);
  lt2.textContent=p.leg;
});
</script>
</body></html>
